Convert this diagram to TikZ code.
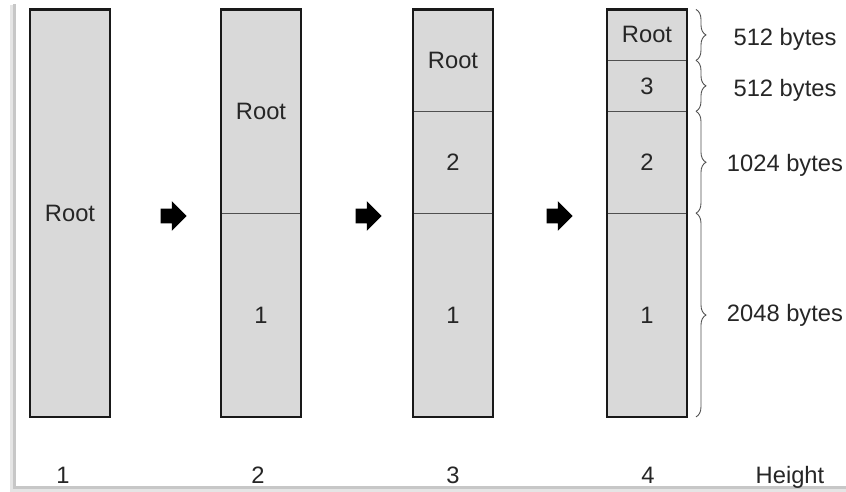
\documentclass[tikz,border=0pt]{standalone}
\usepackage{fontspec}
\setmainfont{Liberation Sans}
\usepackage{xcolor}
\usetikzlibrary{positioning,shapes.arrows,decorations.pathreplacing}
\definecolor{cellgray}{HTML}{D9D9D9}
\definecolor{inkgray}{HTML}{262626}
\definecolor{rulegray}{HTML}{505050}
\tikzstyle{every node}=[font=\fontsize{13.5}{16}\selectfont,text=inkgray]
\tikzstyle{cell}=[draw=rulegray,line width=0.7pt,fill=cellgray,minimum width=1.6cm,inner sep=0pt,outer sep=0pt]
\tikzstyle{barframe}=[draw=black!90,line width=1.2pt]
\tikzstyle{nextarrow}=[single arrow,fill=black,draw=none,inner sep=0.14cm,
  minimum height=0.52cm,single arrow head extend=0.15cm]
\tikzstyle{sizebrace}=[decorate,decoration={brace,amplitude=0.2cm},draw=rulegray,line width=0.5pt]
\tikzstyle{lbl}=[anchor=base]

\begin{document}
\begin{tikzpicture}[x=0.02cm,y=-0.02cm]
    \useasboundingbox (0,0) rectangle (846,492);
    \fill[black!10] (10,5) rectangle (846,492);
    \fill[black!22] (13,4) rectangle (846,489);
    \fill[white] (16,1) rectangle (846,486);

    % height 1
    \node[cell,minimum height=8.15cm] (a1) at (70,213.25) {Root};
    \draw[barframe] (a1.north west) rectangle (a1.south east);

    % height 2
    \node[cell,minimum height=4.075cm] (r2) at (261,111.4) {Root};
    \node[cell,minimum height=4.075cm,below=0pt of r2] (a2) {1};
    \draw[barframe] (r2.north west) rectangle (a2.south east);

    % height 3
    \node[cell,minimum height=2.0375cm] (r3) at (453,60.4) {Root};
    \node[cell,minimum height=2.0375cm,below=0pt of r3] (b3) {2};
    \node[cell,minimum height=4.075cm,below=0pt of b3] (a3) {1};
    \draw[barframe] (r3.north west) rectangle (a3.south east);

    % height 4
    \node[cell,minimum height=1.01875cm] (r4) at (647,34.95) {Root};
    \node[cell,minimum height=1.01875cm,below=0pt of r4] (c4) {3};
    \node[cell,minimum height=2.0375cm,below=0pt of c4] (b4) {2};
    \node[cell,minimum height=4.075cm,below=0pt of b4] (a4) {1};
    \draw[barframe] (r4.north west) rectangle (a4.south east);

    \node[nextarrow] (g1) at (170,216) {};
    \node[nextarrow] (g2) at (365,216) {};
    \node[nextarrow] (g3) at (556,216) {};

    \draw[sizebrace] ([xshift=0.18cm]r4.north east) -- ([xshift=0.18cm]r4.south east);
    \draw[sizebrace] ([xshift=0.18cm]c4.north east) -- ([xshift=0.18cm]c4.south east);
    \draw[sizebrace] ([xshift=0.18cm]b4.north east) -- ([xshift=0.18cm]b4.south east);
    \draw[sizebrace] ([xshift=0.18cm]a4.north east) -- ([xshift=0.18cm]a4.south east);

    \node[lbl] (s4) at (785,45.5) {512 bytes};
    \node[lbl] (s3) at (785,97) {512 bytes};
    \node[lbl] (s2) at (785,171.5) {1024 bytes};
    \node[lbl] (s1) at (785,322) {2048 bytes};

    \node[lbl] (h1) at (63,484) {1};
    \node[lbl] (h2) at (258,484) {2};
    \node[lbl] (h3) at (453,484) {3};
    \node[lbl] (h4) at (648,484) {4};
    \node[lbl] (ht) at (790,484) {Height};
\end{tikzpicture}
\end{document}
